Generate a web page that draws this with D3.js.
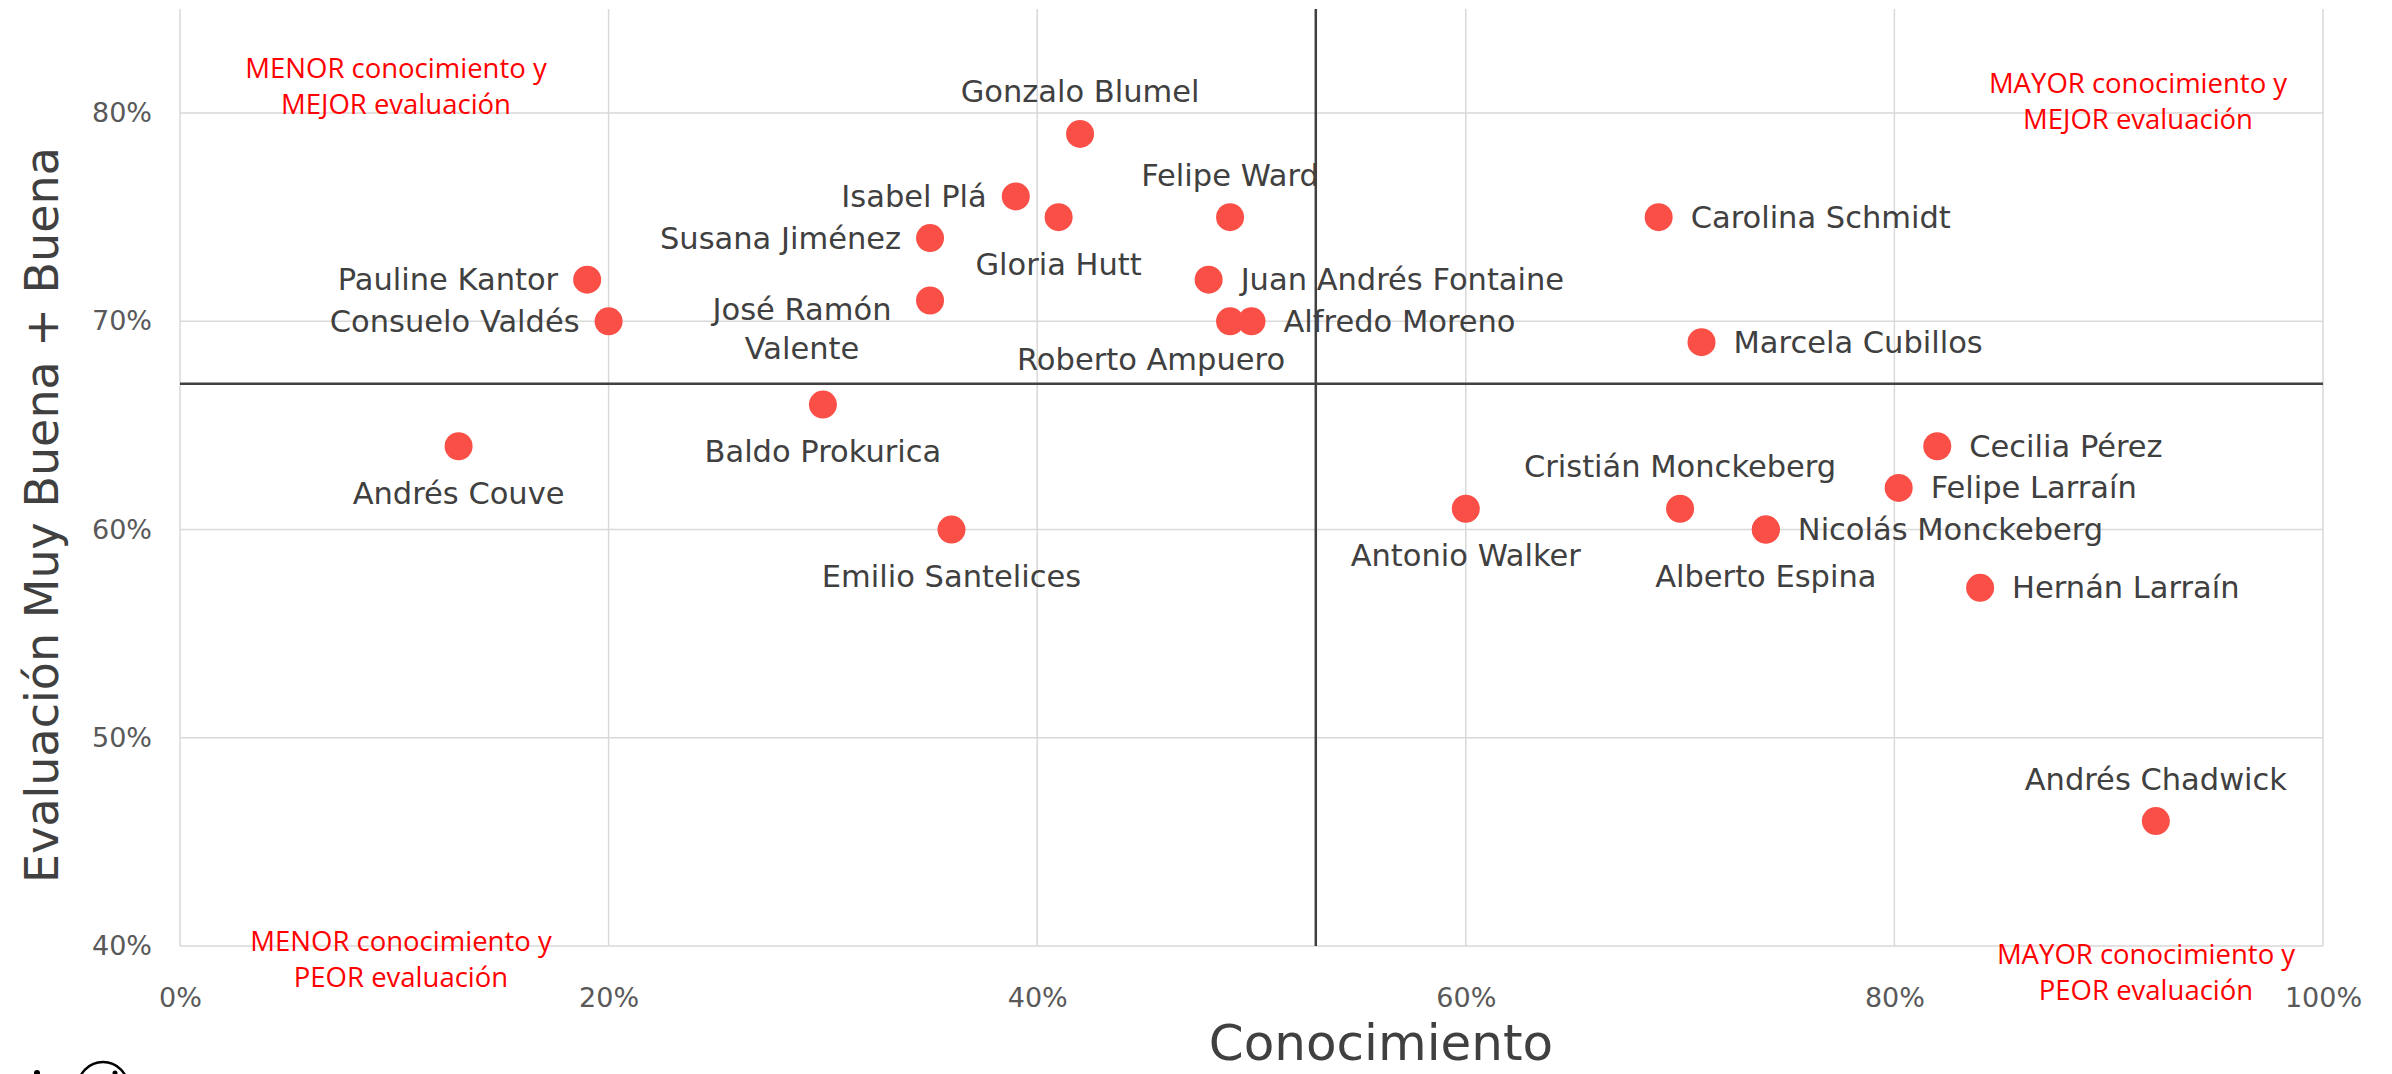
<!DOCTYPE html>
<html>
<head>
<meta charset="utf-8">
<style type="text/css">
body { margin: 0; background: #fff; }
.grid line { stroke: #d9d9d9; stroke-width: 1.5; }
.corte { stroke: #404040; stroke-width: 2.5; }
.punto { fill: #f94f47; }
.etiqueta { font-family: "DejaVu Sans", sans-serif; font-size: 30.5px; fill: #404040; }
.tick { font-family: "DejaVu Sans", sans-serif; font-size: 27px; fill: #595959; }
.titulo { font-family: "DejaVu Sans", sans-serif; font-size: 46px; fill: #404040; }
.nota { font-family: "Open Sans", sans-serif; font-size: 27.5px; fill: #ff0000; }
</style>
<script src="https://d3js.org/d3.v7.min.js"></script>
</head>
<body>
<script type="text/javascript">
var width  = 2392;
var height = 1074;

// datos
var nombres = ["Gonzalo Blumel", "Isabel Plá", "Gloria Hutt", "Felipe Ward", "Susana Jiménez",
	"Pauline Kantor", "Consuelo Valdés", "José Ramón Valente", "Juan Andrés Fontaine", "Roberto Ampuero",
	"Alfredo Moreno", "Carolina Schmidt", "Marcela Cubillos", "Baldo Prokurica", "Andrés Couve",
	"Emilio Santelices", "Antonio Walker", "Cristián Monckeberg", "Nicolás Monckeberg", "Alberto Espina",
	"Cecilia Pérez", "Felipe Larraín", "Hernán Larraín", "Andrés Chadwick"];
var conocimiento = [0.42, 0.39, 0.41, 0.49, 0.35,
	0.19, 0.20, 0.35, 0.48, 0.49,
	0.50, 0.69, 0.71, 0.30, 0.13,
	0.36, 0.60, 0.70, 0.74, 0.74,
	0.82, 0.802, 0.84, 0.922];
var evaluacion = [0.79, 0.76, 0.75, 0.75, 0.74,
	0.72, 0.70, 0.71, 0.72, 0.70,
	0.70, 0.75, 0.69, 0.66, 0.64,
	0.60, 0.61, 0.61, 0.60, 0.60,
	0.64, 0.62, 0.572, 0.46];
var xTicks = [0, 0.2, 0.4, 0.6, 0.8, 1.0];
var yTicks = [0.4, 0.5, 0.6, 0.7, 0.8];
var corteX = 0.53;
var corteY = 0.67;
var notas = [
	{ lineas: ["MENOR conocimiento y", "MEJOR evaluación"], x: 396, y: 78 },
	{ lineas: ["MAYOR conocimiento y", "MEJOR evaluación"], x: 2138, y: 93 },
	{ lineas: ["MENOR conocimiento y", "PEOR evaluación"], x: 401, y: 951 },
	{ lineas: ["MAYOR conocimiento y", "PEOR evaluación"], x: 2146, y: 964 }
];

// donde va cada etiqueta respecto al punto
var lado = {
	"Gonzalo Blumel": "arriba", "Isabel Plá": "izq", "Gloria Hutt": "abajo", "Felipe Ward": "arriba",
	"Susana Jiménez": "izq", "Pauline Kantor": "izq", "Consuelo Valdés": "izq", "José Ramón Valente": "jose",
	"Juan Andrés Fontaine": "der", "Roberto Ampuero": "roberto", "Alfredo Moreno": "der",
	"Carolina Schmidt": "der", "Marcela Cubillos": "der", "Baldo Prokurica": "abajo", "Andrés Couve": "abajo",
	"Emilio Santelices": "abajo", "Antonio Walker": "abajo", "Cristián Monckeberg": "arriba",
	"Nicolás Monckeberg": "der", "Alberto Espina": "abajo", "Cecilia Pérez": "der", "Felipe Larraín": "der",
	"Hernán Larraín": "der", "Andrés Chadwick": "arriba"
};

var data = nombres.map(function(n, i) {
	return { nombre: n, x: conocimiento[i], y: evaluacion[i] };
});

var mLeft = 180, mRight = 2323, mTop = 9, mBottom = 946;
var x = d3.scaleLinear().domain([0, 1]).range([mLeft, mRight]);
var y = d3.scaleLinear().domain([0.4, 0.85]).range([mBottom, mTop]);

var svg = d3.select("body").append("svg").attr("width", width).attr("height", height);

// grilla
var grid = svg.append("g").attr("class", "grid");
grid.selectAll(".gx").data(xTicks).enter().append("line")
	.attr("x1", function(d) { return x(d); }).attr("x2", function(d) { return x(d); })
	.attr("y1", mTop).attr("y2", mBottom);
grid.selectAll(".gy").data(yTicks).enter().append("line")
	.attr("x1", mLeft).attr("x2", mRight)
	.attr("y1", function(d) { return y(d); }).attr("y2", function(d) { return y(d); });

// ejes (solo texto)
var fmt = d3.format(".0%");
var ax = svg.append("g").attr("transform", "translate(0," + mBottom + ")")
	.call(d3.axisBottom(x).tickValues(xTicks).tickFormat(fmt).tickSize(0).tickPadding(42));
ax.select(".domain").remove();
ax.selectAll("text").attr("class", "tick").attr("font-size", null).attr("font-family", null);
var ay = svg.append("g").attr("transform", "translate(" + mLeft + ",0)")
	.call(d3.axisLeft(y).tickValues(yTicks).tickFormat(fmt).tickSize(0).tickPadding(28));
ay.select(".domain").remove();
ay.selectAll("text").attr("class", "tick").attr("font-size", null).attr("font-family", null);
svg.selectAll(".tick").attr("fill", null);

// cuadrantes
svg.append("line").attr("class", "corte")
	.attr("x1", x(corteX)).attr("x2", x(corteX)).attr("y1", mTop).attr("y2", mBottom);
svg.append("line").attr("class", "corte")
	.attr("x1", mLeft).attr("x2", mRight).attr("y1", y(corteY)).attr("y2", y(corteY));

// notas rojas
notas.forEach(function(n) {
	var t = svg.append("text").attr("class", "nota").attr("text-anchor", "middle");
	n.lineas.forEach(function(l, i) {
		t.append("tspan").attr("x", n.x).attr("y", n.y + i * 36).text(l);
	});
});

// puntos
svg.selectAll(".punto").data(data).enter().append("circle")
	.attr("class", "punto")
	.attr("cx", function(d) { return x(d.x); })
	.attr("cy", function(d) { return y(d.y); })
	.attr("r", 14);

// etiquetas
data.forEach(function(d) {
	var px = x(d.x), py = y(d.y), l = lado[d.nombre];
	var t = svg.append("text").attr("class", "etiqueta").attr("dominant-baseline", "central");
	if (l == "der") {
		t.attr("x", px + 32).attr("y", py).text(d.nombre);
	} else if (l == "izq") {
		t.attr("x", px - 29).attr("y", py).attr("text-anchor", "end").text(d.nombre);
	} else if (l == "arriba") {
		t.attr("x", px).attr("y", py - 42).attr("text-anchor", "middle").text(d.nombre);
	} else if (l == "abajo") {
		t.attr("x", px).attr("y", py + 47).attr("text-anchor", "middle").text(d.nombre);
	} else if (l == "roberto") {
		t.attr("x", px - 79).attr("y", py + 38).attr("text-anchor", "middle").text(d.nombre);
	} else if (l == "jose") {
		t.attr("text-anchor", "middle");
		t.append("tspan").attr("x", px - 128).attr("y", py + 8).text("José Ramón");
		t.append("tspan").attr("x", px - 128).attr("y", py + 47).text("Valente");
	}
});

// titulos
svg.append("text").attr("class", "titulo").attr("text-anchor", "middle")
	.style("font-size", "50px")
	.attr("x", 1381).attr("y", 1060).text("Conocimiento");
svg.append("text").attr("class", "titulo").attr("text-anchor", "middle")
	.attr("transform", "translate(58,515) rotate(-90)").text("Evaluación Muy Buena + Buena");

// logo cortado abajo a la izquierda
svg.append("circle").attr("cx", 103).attr("cy", 1087).attr("r", 25)
	.attr("fill", "none").attr("stroke", "#000").attr("stroke-width", 2.5);
svg.append("circle").attr("cx", 115).attr("cy", 1073).attr("r", 2.5).attr("fill", "#000");
svg.append("circle").attr("cx", 37).attr("cy", 1073).attr("r", 3).attr("fill", "#000");
</script>
</body>
</html>
